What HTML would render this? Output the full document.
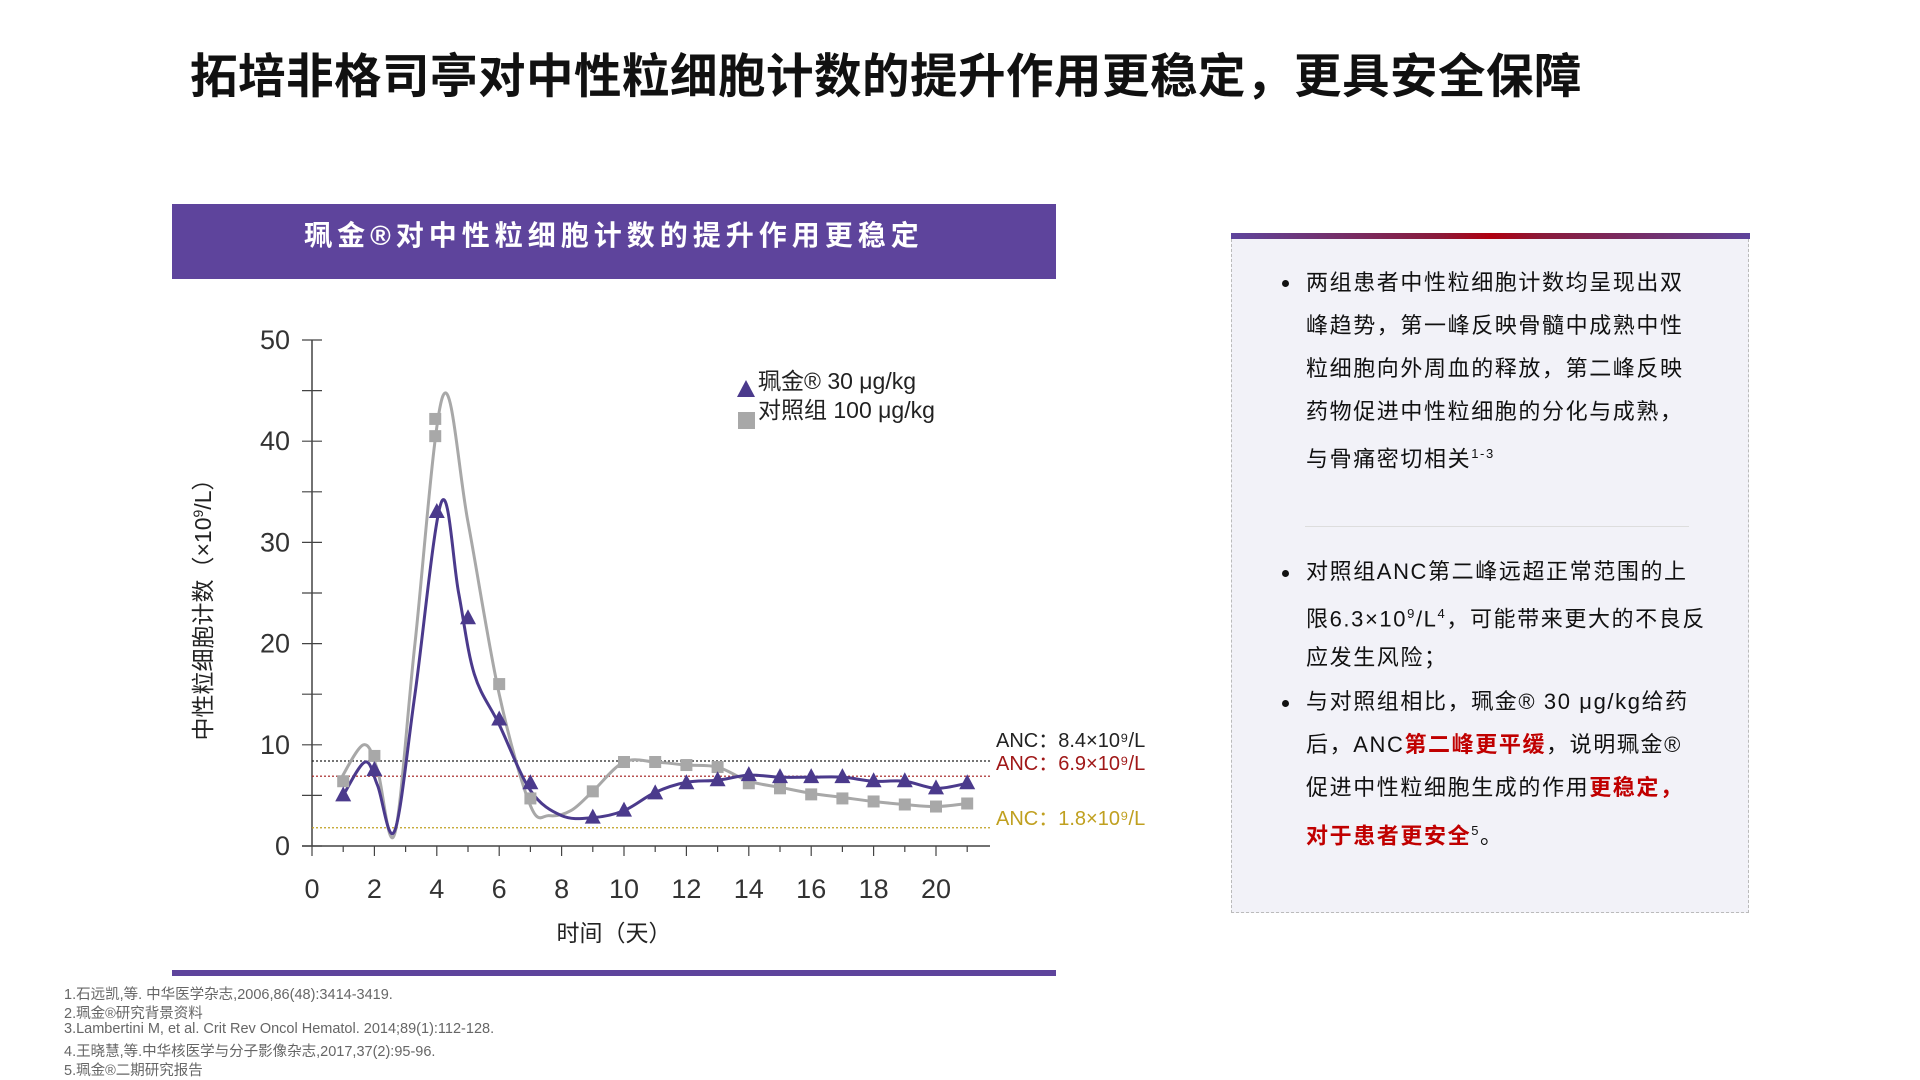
<!DOCTYPE html>
<html><head><meta charset="utf-8"><style>
body{margin:0;width:1920px;height:1080px;background:#fff;position:relative;overflow:hidden;font-family:"Liberation Sans","Noto Sans CJK SC",sans-serif;}
.abs{position:absolute;}
#title{left:190px;top:38px;font-size:47.5px;font-weight:bold;color:#111;white-space:nowrap;letter-spacing:0.5px}
#hdr{left:172px;top:204px;width:884px;height:75px;background:#5e449c;color:#fff;font-size:28px;font-weight:bold;letter-spacing:5px;text-align:center;line-height:64px}
#botline{left:172px;top:970px;width:884px;height:6px;background:#5e449c}
#panel{left:1231px;top:234px;width:516px;height:678px;background:#f2f2f8;border:1.5px dashed #bbb;border-top:none}
#topbar{left:1231px;top:233px;width:519px;height:6px;background:linear-gradient(90deg,#5e449c,#8a1a3a 40%,#b00010 50%,#8a1a3a 60%,#5e449c)}
.ln{position:absolute;left:1306px;font-size:22px;color:#111;white-space:nowrap;letter-spacing:1.6px;line-height:26px}
.bul{position:absolute;left:1282px;width:7px;height:7px;border-radius:50%;background:#111}
.red{color:#c00000;font-weight:bold}
sup{font-size:13px}
.fn{position:absolute;left:64px;font-size:14.5px;color:#666;white-space:nowrap}
</style></head><body>
<div id="title" class="abs">拓培非格司亭对中性粒细胞计数的提升作用更稳定，更具安全保障</div>
<div id="hdr" class="abs">珮金®对中性粒细胞计数的提升作用更稳定</div>
<div id="botline" class="abs"></div>
<svg id="chart" class="abs" style="left:0;top:0" width="1920" height="1080"></svg>
<div id="panel" class="abs"></div>
<div id="topbar" class="abs"></div>
<div>
<div class="bul" style="top:280px"></div>
<div class="ln" style="top:270px">两组患者中性粒细胞计数均呈现出双</div>
<div class="ln" style="top:313px">峰趋势，第一峰反映骨髓中成熟中性</div>
<div class="ln" style="top:356px">粒细胞向外周血的释放，第二峰反映</div>
<div class="ln" style="top:399px">药物促进中性粒细胞的分化与成熟，</div>
<div class="ln" style="top:441px">与骨痛密切相关<sup>1-3</sup></div>
<div class="abs" style="left:1305px;top:526px;width:384px;height:1px;background:#ddd"></div>
<div class="bul" style="top:570px"></div>
<div class="ln" style="top:559px">对照组ANC第二峰远超正常范围的上</div>
<div class="ln" style="top:601px">限6.3×10<sup>9</sup>/L<sup>4</sup>，可能带来更大的不良反</div>
<div class="ln" style="top:645px">应发生风险；</div>
<div class="bul" style="top:700px"></div>
<div class="ln" style="top:689px">与对照组相比，珮金® 30 μg/kg给药</div>
<div class="ln" style="top:732px">后，ANC<span class="red">第二峰更平缓</span>，说明珮金®</div>
<div class="ln" style="top:775px">促进中性粒细胞生成的作用<span class="red">更稳定，</span></div>
<div class="ln" style="top:818px"><span class="red">对于患者更安全</span><sup>5</sup>。</div>
</div>
<div>
<div class="fn" style="top:983px">1.石远凯,等. 中华医学杂志,2006,86(48):3414-3419.</div>
<div class="fn" style="top:1002px">2.珮金®研究背景资料</div>
<div class="fn" style="top:1021px">3.Lambertini M, et al. Crit Rev Oncol Hematol. 2014;89(1):112-128.</div>
<div class="fn" style="top:1040px">4.王晓慧,等.中华核医学与分子影像杂志,2017,37(2):95-96.</div>
<div class="fn" style="top:1059px">5.珮金®二期研究报告</div>
</div>
<script>
const xTicks=[0,2,4,6,8,10,12,14,16,18,20];
const yTicks=[0,10,20,30,40,50];
const peiDays=[1,2,4,5,6,7,9,10,11,12,13,14,15,16,17,18,19,20,21];
const peiVals=[5,7.5,33,22.5,12.5,6.2,2.8,3.5,5.2,6.2,6.5,7,6.8,6.8,6.8,6.4,6.4,5.7,6.2];
const ctlDays=[1,2,3.95,3.95,6,7,9,10,11,12,13,14,15,16,17,18,19,20,21];
const ctlVals=[6.4,8.9,40.5,42.2,16,4.7,5.4,8.3,8.3,8,7.8,6.2,5.7,5.1,4.7,4.4,4.1,3.9,4.2];
const peiCurveX=[1,1.7,2.1,2.65,3.3,4.15,4.7,5.2,6,7,8,9,10,11,12,13,14,15,16,17,18,19,20,21];
const peiCurveY=[5,8.3,6,1.5,15,34,25,17,12,5.5,3,2.8,3.5,5.3,6.3,6.5,7,6.8,6.8,6.8,6.4,6.4,5.7,6.2];
const ctlCurveX=[0.9,1.65,2.1,2.65,3.3,4.2,5,6,7,7.6,8.3,9,10,11,12,13,14,15,16,17,18,19,20,21];
const ctlCurveY=[6.5,10,7.5,1.2,20,44.5,32,15,4,3,3.5,5.4,8.3,8.3,8,7.8,6.4,5.8,5.2,4.8,4.4,4.1,3.9,4.2];
const refVals=[8.4,6.9,1.8];
const refLabels=["ANC：8.4×10⁹/L","ANC：6.9×10⁹/L","ANC：1.8×10⁹/L"];
const refColors=["#222","#a01818","#c0a020"];
const refLabelDy=[-14,-6,-3];
const X=v=>312+v*31.2, Y=v=>846-v*10.12;
const svg=document.getElementById('chart');const NS='http://www.w3.org/2000/svg';
function el(t,a,p){const e=document.createElementNS(NS,t);for(const k in a)e.setAttribute(k,a[k]);(p||svg).appendChild(e);return e;}
let ax=el('line',{x1:X(0),y1:Y(0),x2:X(0),y2:Y(50),stroke:'#444','stroke-width':1.5});

let axx=el('line',{x1:X(0)-10,y1:Y(0),x2:990,y2:Y(0),stroke:'#444','stroke-width':1.5});

for(let v=0;v<=50;v+=5){el('line',{x1:X(0)-10,x2:X(0)+10,y1:Y(v),y2:Y(v),stroke:'#444','stroke-width':1.2});}
for(let d=0;d<=21;d++){el('line',{x1:X(d),x2:X(d),y1:Y(0),y2:Y(0)+(d%2?6:10),stroke:'#444','stroke-width':1.2});}
yTicks.forEach(v=>{const t=el('text',{x:X(0)-22,y:Y(v)+9,'text-anchor':'end','font-size':27,fill:'#333'});t.textContent=v;
});
xTicks.forEach(v=>{const t=el('text',{x:X(v),y:898,'text-anchor':'middle','font-size':27,fill:'#333'});t.textContent=v;
});
let xt=el('text',{x:614,y:941,'text-anchor':'middle','font-size':23,fill:'#222'});xt.textContent='时间（天）';

let yt=el('text',{x:0,y:0,'text-anchor':'middle','font-size':23,fill:'#222',transform:'translate(211,604) rotate(-90)'});yt.innerHTML='中性粒细胞计数（×10<tspan dy="-8" font-size="14">9</tspan><tspan dy="8">/L）</tspan>';

refVals.forEach((v,i)=>{const l=el('line',{x1:X(0),x2:990,y1:Y(v),y2:Y(v),stroke:refColors[i],'stroke-width':1.2,'stroke-dasharray':'2,2'});

const t=el('text',{x:996,y:Y(v)+refLabelDy[i],'font-size':20,fill:refColors[i]});t.textContent=refLabels[i];
});
function smooth(xs,ys){let p=xs.map((x,i)=>[X(x),Y(ys[i])]);let d='M'+p[0][0]+','+p[0][1];
for(let i=0;i<p.length-1;i++){const p0=p[i-1]||p[i],p1=p[i],p2=p[i+1],p3=p[i+2]||p2;
d+=` C${p1[0]+(p2[0]-p0[0])/6},${p1[1]+(p2[1]-p0[1])/6} ${p2[0]-(p3[0]-p1[0])/6},${p2[1]-(p3[1]-p1[1])/6} ${p2[0]},${p2[1]}`;}return d;}
let cg=el('path',{d:smooth(ctlCurveX,ctlCurveY),fill:'none',stroke:'#a8a8a8','stroke-width':3});

let cp=el('path',{d:smooth(peiCurveX,peiCurveY),fill:'none',stroke:'#4b3a8c','stroke-width':3});

ctlDays.forEach((d,i)=>{const r=el('rect',{x:X(d)-6,y:Y(ctlVals[i])-6,width:12,height:12,fill:'#a8a8a8'});
});
peiDays.forEach((d,i)=>{const x=X(d),y=Y(peiVals[i]);const t=el('polygon',{points:`${x},${y-9} ${x-8},${y+6} ${x+8},${y+6}`,fill:'#4b3a8c'});
});
let lg=el('g',{});
el('polygon',{points:'746,380 737,397 755,397',fill:'#4b3a8c'},lg);
el('rect',{x:738,y:412,width:17,height:17,fill:'#a8a8a8'},lg);
let l1=el('text',{x:758,y:389,'font-size':23,fill:'#222'},lg);l1.textContent='珮金® 30 μg/kg';
let l2=el('text',{x:758,y:418,'font-size':23,fill:'#222'},lg);l2.textContent='对照组 100 μg/kg';
</script>
</body></html>
